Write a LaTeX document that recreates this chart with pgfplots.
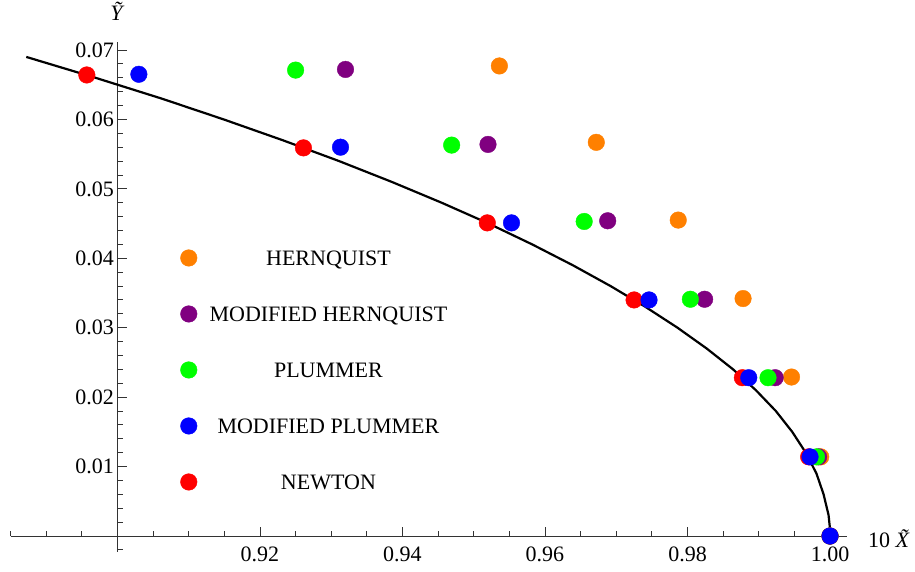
\documentclass[border=0pt]{standalone}
\usepackage{fontspec}
\setmainfont{Liberation Serif}
\usepackage{pgfplots}
\pgfplotsset{compat=1.18}
\definecolor{mOrange}{rgb}{1,0.5,0}
\definecolor{mPurple}{rgb}{0.5,0,0.5}
\definecolor{mGreen}{rgb}{0,1,0}
\definecolor{mBlue}{rgb}{0,0,1}
\definecolor{mRed}{rgb}{1,0,0}
\begin{document}
\begin{tikzpicture}
\useasboundingbox (-10.6pt,-20pt) rectangle (904.4pt,552pt);
\begin{axis}[
  scale only axis, width=836.5pt, height=510pt,
  xmin=0.885, xmax=1.0024, ymin=-0.0023, ymax=0.07115,
  axis x line=middle, axis y line=left, axis y line shift=-106.9pt,
  axis line style={-, black!80, line width=0.9pt},
  tick style={black!80, line width=0.9pt},
  tick align=inside,
  major tick length=9pt, minor tick length=5.5pt,
  scaled x ticks=false, scaled y ticks=false,
  xtick={0.92,0.94,0.96,0.98,1.0},
  xticklabels={\textrm{0.92},\textrm{0.94},\textrm{0.96},\textrm{0.98},\textrm{1.00}},
  minor xtick={0.885,0.89,0.895,0.9,0.905,0.91,0.915,0.925,0.93,0.935,0.945,0.95,0.955,0.965,0.97,0.975,0.985,0.99,0.995},
  ytick={0.01,0.02,0.03,0.04,0.05,0.06,0.07},
  yticklabels={\textrm{0.01},\textrm{0.02},\textrm{0.03},\textrm{0.04},\textrm{0.05},\textrm{0.06},\textrm{0.07}},
  minor ytick={-0.002,0,0.002,0.004,0.006,0.008,0.012,0.014,0.016,0.018,0.022,0.024,0.026,0.028,0.032,0.034,0.036,0.038,0.042,0.044,0.046,0.048,0.052,0.054,0.056,0.058,0.062,0.064,0.066,0.068},
  ticklabel style={font=\fontsize{22}{26}\selectfont, black},
  xticklabel style={yshift=-7pt},
  /pgf/number format/assume math mode=true,
  clip=false,
  legend cell align=center,
  legend style={draw=none, fill=none, at={(0.2031,0.5928)}, anchor=north west,
    inner sep=0pt, outer sep=0pt, row sep=39.4pt, column sep=12.5pt,
    font=\fontsize{22}{26}\selectfont,
    nodes={inner sep=0pt, text height=15pt, text depth=0pt}},
  every axis plot/.append style={mark size=8.3pt},
]
% curve
\addplot[black, line width=2.2pt, forget plot] coordinates {
(0.8872,0.069) (0.8969,0.066) (0.9062,0.063) (0.9149,0.060) (0.9232,0.057)
(0.9311,0.054) (0.9385,0.051) (0.9455,0.048) (0.9521,0.045) (0.9582,0.042)
(0.9639,0.039) (0.9692,0.036) (0.9741,0.033) (0.9786,0.030) (0.9827,0.027)
(0.9864,0.024) (0.9896,0.021) (0.9924,0.018) (0.9947,0.015) (0.9966,0.012)
(0.9981,0.009) (0.9991,0.006) (0.9998,0.003) (0.99995,0.0015) (1.0,0.0)};
% Hernquist
\addplot[only marks, mark=*, mOrange, forget plot] coordinates {
(0.9536,0.0677) (0.9672,0.0567) (0.9787,0.0455) (0.9878,0.0342) (0.9946,0.0229) (0.9987,0.0114) (1.0,0)};
% Modified Hernquist
\addplot[only marks, mark=*, mPurple, forget plot] coordinates {
(0.9320,0.0672) (0.9520,0.0564) (0.9688,0.0454) (0.9824,0.0341) (0.9923,0.0228) (0.9984,0.0114) (1.0,0)};
% Plummer
\addplot[only marks, mark=*, mGreen, forget plot] coordinates {
(0.9250,0.0671) (0.9469,0.0563) (0.9655,0.0453) (0.9804,0.0341) (0.9913,0.0228) (0.9981,0.0114) (1.0,0)};
% Newton
\addplot[only marks, mark=*, mRed, forget plot] coordinates {
(0.8957,0.0664) (0.9261,0.0559) (0.9519,0.0451) (0.9725,0.0340) (0.9877,0.0228) (0.9970,0.0114) (1.0,0)};
% Modified Plummer
\addplot[only marks, mark=*, mBlue, forget plot] coordinates {
(0.9030,0.0665) (0.9313,0.0560) (0.9553,0.0451) (0.9746,0.0340) (0.9886,0.0228) (0.9972,0.0114) (1.0,0)};

\addlegendimage{only marks, mark=*, mOrange, mark size=8.3pt}
\addlegendentry{HERNQUIST}
\addlegendimage{only marks, mark=*, mPurple, mark size=8.3pt}
\addlegendentry{MODIFIED HERNQUIST}
\addlegendimage{only marks, mark=*, mGreen, mark size=8.3pt}
\addlegendentry{PLUMMER}
\addlegendimage{only marks, mark=*, mBlue, mark size=8.3pt}
\addlegendentry{MODIFIED PLUMMER}
\addlegendimage{only marks, mark=*, mRed, mark size=8.3pt}
\addlegendentry{NEWTON}

\node[anchor=center, inner sep=0pt, font=\fontsize{22}{26}\selectfont] at (axis cs:0.9,0.07560) {\textit{\~Y}};
\node[anchor=west, inner sep=0pt, font=\fontsize{22}{26}\selectfont] at (axis cs:1.00533,-0.0004) {10 \textit{\~X}};
\end{axis}
\end{tikzpicture}
\end{document}
